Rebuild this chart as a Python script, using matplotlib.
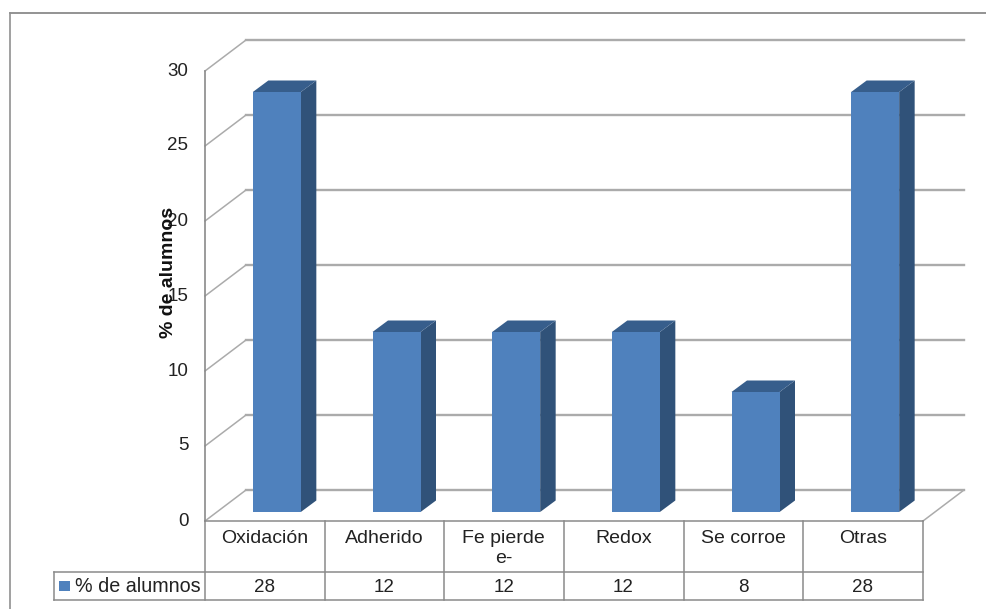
import matplotlib
matplotlib.use("Agg")
import matplotlib.pyplot as plt
from matplotlib.lines import Line2D
from matplotlib.patches import Polygon, Rectangle
from matplotlib.transforms import Affine2D

categories = ["Oxidación", "Adherido", "Fe pierde\ne-", "Redox", "Se corroe", "Otras"]
values = [28, 12, 12, 12, 8, 28]
series_name = "% de alumnos"
y_ticks = [0, 5, 10, 15, 20, 25, 30]

plt.rcParams["font.family"] = ["Liberation Sans", "DejaVu Sans"]
W, H = 986, 609
fig = plt.figure(figsize=(W / 100, H / 100), dpi=100, facecolor="white")
L, R, T, B = 205, 923, 71, 521
ax = fig.add_axes([L / W, 1 - B / H, (R - L) / W, (B - T) / H])
ax.set_xlim(0, 6)
ax.set_ylim(0, 30)
ax.axis("off")
px = Affine2D().scale(1 / W, -1 / H).translate(0, 1) + fig.transFigure

ux, uy = 6 / (R - L), 30 / (B - T)      # data units per pixel
DX, DY = 41 * ux, 31 * uy               # wall depth
bx, by = 15.5 * ux, 11.5 * uy           # bar depth
sx, sy = 12 * ux, 9 * uy                # bar shift into the floor
bw = 48 * ux

GRID, FRAME = "#ABABAB", "#8A8A8A"
FRONT, SIDE, TOP = "#4F81BD", "#305279", "#375E8C"

# walls and floor
for v in y_ticks:
    ax.plot([0, DX], [v, v + DY], color=GRID, lw=1.1, clip_on=False, zorder=1)
    ax.plot([DX, 6 + DX], [v + DY, v + DY], color=GRID, lw=1.7, clip_on=False, zorder=1)
ax.plot([0, 0], [0, 30], color=FRAME, lw=1.2, clip_on=False, zorder=1)
ax.plot([6, 6 + DX], [0, DY], color=GRID, lw=1.1, clip_on=False, zorder=1)

# bars
xs = [i + 0.5 + sx for i in range(len(values))]
ax.bar(xs, values, width=bw, bottom=sy, color=FRONT, zorder=3, clip_on=False)
for x, v in zip(xs, values):
    x1, x2 = x - bw / 2, x + bw / 2
    top = v + sy
    ax.add_patch(Polygon([(x2, sy), (x2 + bx, sy + by), (x2 + bx, top + by), (x2, top)],
                         color=SIDE, lw=0, zorder=2, clip_on=False))
    ax.add_patch(Polygon([(x1, top), (x1 + bx, top + by), (x2 + bx, top + by), (x2, top)],
                         color=TOP, lw=0, zorder=2, clip_on=False))

# y tick labels
for v in y_ticks:
    fig.text(188.5 / W, 1 - (B - v * 15) / H, str(v), ha="right", va="center",
             fontsize=13.5, color="#222222")
fig.text(168.5 / W, 1 - 272 / H, series_name, rotation=90, ha="center", va="center",
         fontsize=14, fontweight="bold", color="#111111", zorder=5)

# outer frame
def rule(x, y, color=FRAME, lw=1.1):
    fig.add_artist(Line2D(x, y, transform=px, color=color, lw=lw))

rule([10, 986], [13, 13], "#808080", 1.2)
rule([10, 10], [13, 609], "#909090", 1.2)

# data table
col = [L + i * (R - L) / 6 for i in range(7)]
rule([L, R], [B, B])
rule([54, R], [572, 572])
rule([54, R], [600, 600])
rule([54, 54], [572, 600])
for c in col:
    rule([c, c], [B, 600])
for i, (c, v) in enumerate(zip(categories, values)):
    cx = (col[i] + col[i + 1]) / 2 - 0.5
    fig.text(cx / W, 1 - 530 / H, c, ha="center", va="top", fontsize=14,
             color="#222222", linespacing=1.2)
    fig.text(cx / W, 1 - 587 / H, str(v), ha="center", va="center", fontsize=13.5,
             color="#222222")
fig.add_artist(Rectangle((59, 581), 11, 10, transform=px, facecolor=FRONT, lw=0))
fig.text(75 / W, 1 - 587 / H, series_name, ha="left", va="center", fontsize=14.2,
         color="#222222")

fig.savefig("out.png", dpi=100, facecolor="white")
